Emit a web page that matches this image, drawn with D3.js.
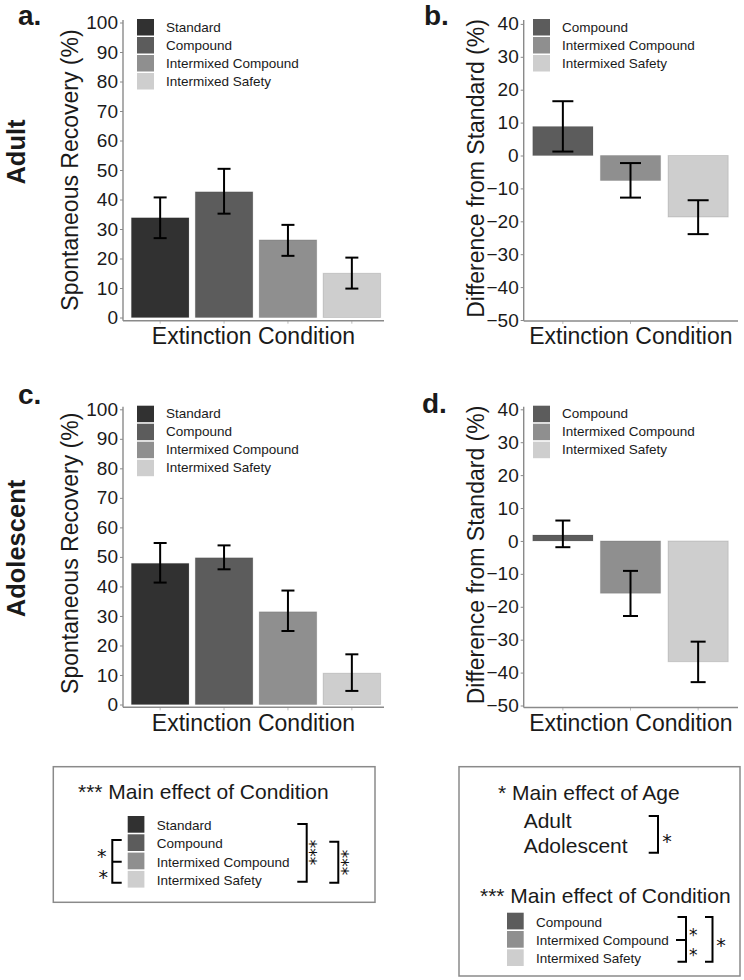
<!DOCTYPE html>
<html>
<head>
<meta charset="utf-8">
<script src="https://cdn.jsdelivr.net/npm/d3@7"></script>
<style>
  body { margin: 0; background: #fff; }
  svg text { font-family: "Liberation Sans", Arial, Helvetica, sans-serif; fill: #1a1a1a; }
  svg text.ast { font-family: "DejaVu Sans", sans-serif; fill: #111; }
</style>
</head>
<body>
<div id="app"></div>
<script>
// Conditions and bar greys
const conditions = ["Standard", "Compound", "Intermixed Compound", "Intermixed Safety"];
const diffConditions = ["Compound", "Intermixed Compound", "Intermixed Safety"];
const conditionFills = ["#313131", "#5c5c5c", "#8f8f8f", "#cecece"];

// Spontaneous recovery (%) with error bar bounds
const adultRecovery     = [33.8, 42.6, 26.3, 15.0];
const adultRecoveryLow  = [26.9, 35.2, 20.9, 9.8];
const adultRecoveryHigh = [40.7, 50.4, 31.4, 20.3];
const adolRecovery      = [47.8, 49.7, 31.4, 10.6];
const adolRecoveryLow   = [41.3, 45.8, 24.9, 4.6];
const adolRecoveryHigh  = [54.7, 53.9, 38.6, 17.0];

// Difference from Standard (%)
const adultDiff     = [8.8, -7.6, -18.7];
const adultDiffLow  = [1.2, -12.8, -23.9];
const adultDiffHigh = [16.5, -2.3, -13.6];
const adolDiff      = [1.8, -15.9, -36.7];
const adolDiffLow   = [-1.9, -22.8, -42.9];
const adolDiffHigh  = [6.2, -9.1, -30.6];

const recoveryTicks = [0, 10, 20, 30, 40, 50, 60, 70, 80, 90, 100];
const diffTicks = [-50, -40, -30, -20, -10, 0, 10, 20, 30, 40];

const fillOf = d3.scaleOrdinal().domain(conditions).range(conditionFills);
const axisGrey = "#8a8a8a";

function barPanel(svg, p) {
  const x = d3.scaleBand().domain(p.cats).range(p.xRange)
    .paddingInner(p.padIn).paddingOuter(p.padOut);
  const y = d3.scaleLinear().domain(p.yDomain).range(p.yRange);
  const g = svg.append("g");

  // bars
  g.selectAll("rect.bar").data(p.cats).join("rect")
    .attr("class", "bar")
    .attr("x", d => x(d))
    .attr("width", x.bandwidth())
    .attr("y", (d, i) => Math.min(y(p.values[i]), y(0)))
    .attr("height", (d, i) => Math.abs(y(p.values[i]) - y(0)))
    .attr("fill", d => fillOf(d))
    .attr("stroke", "rgba(0,0,0,0.12)")
    .attr("stroke-width", 1);

  // error bars
  const eb = g.selectAll("g.err").data(p.cats).join("g").attr("class", "err")
    .attr("stroke", "#000").attr("stroke-width", 2).attr("fill", "none");
  const cx = d => x(d) + x.bandwidth() / 2;
  eb.append("line")
    .attr("x1", cx).attr("x2", cx)
    .attr("y1", (d, i) => y(p.low[i])).attr("y2", (d, i) => y(p.high[i]));
  eb.append("line")
    .attr("x1", d => cx(d) - p.cap / 2).attr("x2", d => cx(d) + p.cap / 2)
    .attr("y1", (d, i) => y(p.high[i])).attr("y2", (d, i) => y(p.high[i]));
  eb.append("line")
    .attr("x1", d => cx(d) - p.cap / 2).attr("x2", d => cx(d) + p.cap / 2)
    .attr("y1", (d, i) => y(p.low[i])).attr("y2", (d, i) => y(p.low[i]));

  // y axis
  g.append("g")
    .attr("transform", `translate(${p.axisX},0)`)
    .call(d3.axisLeft(y).tickValues(p.ticks).tickSize(3).tickPadding(2))
    .call(a => a.attr("font-size", null).attr("font-family", null))
    .call(a => a.select(".domain").remove())
    .call(a => a.selectAll(".tick line").attr("stroke", axisGrey))
    .call(a => a.selectAll(".tick text").attr("font-size", 19).attr("fill", "#1a1a1a"));

  // x axis ticks
  g.append("g")
    .attr("transform", `translate(0,${p.axisY})`)
    .call(d3.axisBottom(x).tickSize(3).tickFormat(""))
    .call(a => a.select(".domain").remove())
    .call(a => a.selectAll(".tick line").attr("stroke", "#bbb"));

  // axis lines
  g.append("line").attr("x1", p.axisX).attr("x2", p.axisX)
    .attr("y1", p.axisTop).attr("y2", p.axisY)
    .attr("stroke", axisGrey).attr("stroke-width", 1.4);
  g.append("line").attr("x1", p.axisX).attr("x2", p.axisRight)
    .attr("y1", p.axisY).attr("y2", p.axisY)
    .attr("stroke", axisGrey).attr("stroke-width", 1.4);

  // titles
  g.append("text")
    .attr("transform", `translate(${p.yTitleX},${p.yTitleY}) rotate(-90)`)
    .attr("text-anchor", "middle").attr("font-size", 23)
    .text(p.yTitle);
  g.append("text")
    .attr("x", (p.axisX + p.axisRight) / 2).attr("y", p.xTitleY)
    .attr("text-anchor", "middle").attr("font-size", 23)
    .text("Extinction Condition");
  g.append("text")
    .attr("x", p.letterX).attr("y", p.letterY)
    .attr("font-size", 28).attr("font-weight", "bold")
    .text(p.letter);

  // legend
  const leg = g.selectAll("g.leg").data(p.cats).join("g").attr("class", "leg")
    .attr("transform", (d, i) => `translate(${p.legX},${p.legY + i * 18})`);
  leg.append("rect").attr("width", 17).attr("height", 16.5).attr("fill", d => fillOf(d));
  leg.append("text").attr("x", 29).attr("y", 12.7).attr("font-size", 13.5).text(d => d);
}

function legendRows(g, cats, x0, y0, step) {
  const leg = g.selectAll(null).data(cats).join("g")
    .attr("transform", (d, i) => `translate(${x0},${y0 + i * step})`);
  leg.append("rect").attr("width", 16.7).attr("height", 16.7).attr("fill", d => fillOf(d));
  leg.append("text").attr("x", 29).attr("y", 14).attr("font-size", 13.5).text(d => d);
}

function star(g, cx, cy, fs) {
  g.append("text").attr("class", "ast").attr("x", cx).attr("y", cy + 0.58 * fs)
    .attr("text-anchor", "middle").attr("font-size", fs).text("*");
}

function starStack(g, cx, cy, fs) {
  g.append("text").attr("class", "ast")
    .attr("transform", `translate(${cx - 0.58 * fs},${cy}) rotate(90)`)
    .attr("text-anchor", "middle").attr("font-size", fs).text("***");
}

function bracket(g, d) {
  g.append("path").attr("d", d).attr("fill", "none")
    .attr("stroke", "#000").attr("stroke-width", 2);
}

function drawFigure(targetDiv) {
  const width = 744, height = 980;
  const svg = d3.select(targetDiv).append("svg")
    .attr("width", width).attr("height", height)
    .attr("viewBox", [0, 0, width, height]);

  const leftBase = { cats: conditions, xRange: [125, 387], padIn: 0.1, padOut: 0.1,
    yDomain: [0, 100], ticks: recoveryTicks, axisX: 123, axisRight: 384, cap: 13,
    yTitle: "Spontaneous Recovery (%)", yTitleX: 78, letterX: 18, legX: 137 };
  const rightBase = { cats: diffConditions, xRange: [526, 735], padIn: 0.11, padOut: 0.1,
    yDomain: [-50, 40], ticks: diffTicks, axisX: 523.7, axisRight: 738,
    yTitle: "Difference from Standard (%)", yTitleX: 484, letterX: 424, legX: 533 };

  barPanel(svg, { ...leftBase, values: adultRecovery, low: adultRecoveryLow, high: adultRecoveryHigh,
    yRange: [317.5, 22.5], axisTop: 20, axisY: 320.7, yTitleY: 170, xTitleY: 344,
    letter: "a.", letterY: 25, legY: 19 });
  barPanel(svg, { ...rightBase, values: adultDiff, low: adultDiffLow, high: adultDiffHigh,
    yRange: [320, 23.9], axisTop: 20, axisY: 321, cap: 21, yTitleY: 168.5, xTitleY: 344,
    letter: "b.", letterY: 25, legY: 19 });
  barPanel(svg, { ...leftBase, values: adolRecovery, low: adolRecoveryLow, high: adolRecoveryHigh,
    yRange: [704.5, 409.3], axisTop: 406.7, axisY: 707.3, yTitleY: 553.3, xTitleY: 730.5,
    letter: "c.", letterY: 404, legY: 405.7 });
  barPanel(svg, { ...rightBase, values: adolDiff, low: adolDiffLow, high: adolDiffHigh,
    yRange: [705.5, 409.3], axisTop: 406.7, axisY: 707.5, cap: 15, yTitleY: 555, xTitleY: 730.7,
    letter: "d.", letterY: 413, letterX: 422, legY: 405.7 });

  // row labels
  svg.append("text").attr("transform", "translate(25,152) rotate(-90)")
    .attr("text-anchor", "middle").attr("font-size", 25.5).attr("font-weight", "bold").text("Adult");
  svg.append("text").attr("transform", "translate(25,548.5) rotate(-90)")
    .attr("text-anchor", "middle").attr("font-size", 25.5).attr("font-weight", "bold").text("Adolescent");

  // left statistics box
  const lb = svg.append("g");
  lb.append("rect").attr("x", 53.3).attr("y", 766.7).attr("width", 321.7).attr("height", 135.6)
    .attr("fill", "none").attr("stroke", axisGrey).attr("stroke-width", 1.5);
  lb.append("text").attr("x", 78).attr("y", 799.3).attr("font-size", 21).text("*** Main effect of Condition");
  legendRows(lb, conditions, 127.7, 816, 18.3);
  bracket(lb, "M121.7,840H112.3V882.7H121.7M112.3,861.7H121.7");
  star(lb, 101.7, 851.7, 19);
  star(lb, 103.3, 873.3, 19);
  bracket(lb, "M297.3,824H306.7V881.7H297.3");
  starStack(lb, 314.3, 852.5, 17);
  bracket(lb, "M329.3,841.7H338.3V882.7H329.3");
  starStack(lb, 345.7, 862.5, 17);

  // right statistics box
  const rb = svg.append("g");
  rb.append("rect").attr("x", 459).attr("y", 766.7).attr("width", 281).attr("height", 209.3)
    .attr("fill", "none").attr("stroke", axisGrey).attr("stroke-width", 1.5);
  rb.append("text").attr("x", 498).attr("y", 800).attr("font-size", 21).text("* Main effect of Age");
  rb.append("text").attr("x", 523.7).attr("y", 828.3).attr("font-size", 21).text("Adult");
  rb.append("text").attr("x", 523.7).attr("y", 853.3).attr("font-size", 21).text("Adolescent");
  bracket(rb, "M648.7,816H658V852.7H648.7");
  star(rb, 667, 836.7, 19);
  rb.append("text").attr("x", 480).attr("y", 903.3).attr("font-size", 21).text("*** Main effect of Condition");
  legendRows(rb, diffConditions, 507, 912.7, 18.3);
  bracket(rb, "M677.5,917H686V961.7H677.5M686,940H676");
  star(rb, 693.3, 931.5, 17);
  star(rb, 693.3, 951.5, 17);
  bracket(rb, "M705,917H712.5V961.7H705");
  star(rb, 721, 940.7, 19);
}

function main() {
  drawFigure("#app");
}

document.addEventListener("DOMContentLoaded", main);
</script>
</body>
</html>
